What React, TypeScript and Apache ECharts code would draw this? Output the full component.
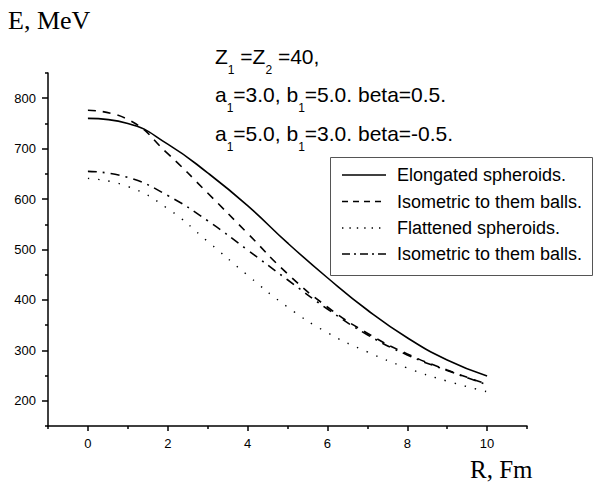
import React, { useEffect, useRef } from "react";
import * as echarts from "echarts";

const R = [0, 1, 2, 3, 4, 5, 6, 7, 8, 9, 10];
const elongated = [760, 750, 709, 652, 587, 513, 444, 380, 325, 281, 249];
const isoElongated = [776, 758, 690, 612, 532, 452, 386, 334, 293, 261, 233];
const flattened = [641, 625, 581, 516, 449, 386, 335, 297, 265, 239, 218];
const isoFlattened = [655, 643, 607, 557, 499, 440, 382, 331, 291, 260, 232];

const seriesNames = [
  "Elongated spheroids.",
  "Isometric to them balls.",
  "Flattened spheroids.",
  "Isometric to them balls.",
];

const xMajor = [0, 2, 4, 6, 8, 10];
const xMinor = [-1, 1, 3, 5, 7, 9, 11];
const yMajor = [200, 300, 400, 500, 600, 700, 800];
const yMinor = [150, 250, 350, 450, 550, 650, 750, 850];

const FONT = "Liberation Sans, Arial, sans-serif";
const SERIF = "Liberation Serif, Times New Roman, serif";

const plotDash: any[] = ["solid", [8, 7], [1.4, 9], [9, 6, 2, 6]];
const legendDash: any[] = [null, [6, 5], [1.4, 6], [8, 4, 2, 4]];
const lineWidths = [1.6, 1.6, 1.4, 1.6];

function pairs(vals: number[]) {
  return R.map((r, i) => [r, vals[i]]);
}

export default function App() {
  const ref = useRef<HTMLDivElement>(null);
  useEffect(() => {
    if (!ref.current) return;
    const chart = echarts.init(ref.current, null, { renderer: "svg" });
    const main = { fontSize: 21, lineHeight: 21, fontFamily: FONT, color: "#000", verticalAlign: "top" };
    const sub = { fontSize: 12, lineHeight: 12, fontFamily: FONT, color: "#000", padding: [18, 0, 0, 0], verticalAlign: "top" };
    const rich = { m: main, s: sub };
    const axisCommon = {
      type: "value",
      axisLine: { show: true, onZero: false, lineStyle: { color: "#000", width: 1.5 } },
      splitLine: { show: false },
    };
    const allSeries = [elongated, isoElongated, flattened, isoFlattened];

    const legendBox = { x: 330.5, y: 157.5, w: 262, h: 118 };
    const rowY = [175, 201.5, 228, 254];
    const legendGraphics: any[] = [
      {
        type: "rect",
        shape: { x: legendBox.x, y: legendBox.y, width: legendBox.w, height: legendBox.h },
        style: { fill: "#fff", stroke: "#555", lineWidth: 1 },
        z: 10,
      },
    ];
    seriesNames.forEach((name, i) => {
      legendGraphics.push({
        type: "line",
        shape: { x1: 342, y1: rowY[i], x2: 386, y2: rowY[i] },
        style: { stroke: "#000", lineWidth: lineWidths[i], lineDash: legendDash[i] || undefined },
        z: 11,
      });
      legendGraphics.push({
        type: "text",
        x: 397,
        y: rowY[i],
        style: { text: name, fontSize: 18, fontFamily: FONT, fill: "#000", verticalAlign: "middle", align: "left" },
        z: 11,
      });
    });

    chart.setOption({
      animation: false,
      backgroundColor: "#fff",
      grid: { left: 48, right: 67, top: 73, bottom: 57, containLabel: false },
      xAxis: [
        {
          ...axisCommon,
          position: "bottom",
          min: -1,
          max: 11,
          axisTick: { show: true, length: 5, customValues: xMajor, lineStyle: { color: "#000", width: 1.5 } },
          axisLabel: { customValues: xMajor, color: "#000", fontSize: 13, fontFamily: FONT, margin: 11 },
        },
        {
          ...axisCommon,
          position: "bottom",
          min: -1,
          max: 11,
          axisLine: { show: false, onZero: false },
          axisTick: { show: true, length: 3, customValues: xMinor, lineStyle: { color: "#000", width: 1.5 } },
          axisLabel: { show: false },
        },
      ],
      yAxis: [
        {
          ...axisCommon,
          position: "left",
          min: 150,
          max: 850,
          axisTick: { show: true, length: 6, customValues: yMajor, lineStyle: { color: "#000", width: 1.5 } },
          axisLabel: { customValues: yMajor, color: "#000", fontSize: 13, fontFamily: FONT, margin: 12 },
        },
        {
          ...axisCommon,
          position: "left",
          min: 150,
          max: 850,
          axisLine: { show: false, onZero: false },
          axisTick: { show: true, length: 3, customValues: yMinor, lineStyle: { color: "#000", width: 1.5 } },
          axisLabel: { show: false },
        },
      ],
      series: allSeries.map((vals, i) => ({
        name: seriesNames[i],
        type: "line",
        data: pairs(vals),
        smooth: 0.5,
        symbol: "none",
        lineStyle: { color: "#000", width: lineWidths[i], type: plotDash[i] },
        itemStyle: { color: "#000" },
      })),
      graphic: [
        { type: "text", left: 8, top: 7, style: { text: "E, MeV", fontSize: 26, fontFamily: SERIF, fill: "#000" } },
        {
          type: "text",
          left: 470,
          top: 457,
          style: { text: "R, Fm", fontSize: 25, lineHeight: 22, fontFamily: SERIF, fill: "#000" },
        },
        {
          type: "text",
          left: 215,
          top: 45.5,
          style: { text: "{m|Z}{s|1}{m| =Z}{s|2}{m| =40,}", rich },
        },
        {
          type: "text",
          left: 215,
          top: 84,
          style: { text: "{m|a}{s|1}{m|=3.0, b}{s|1}{m|=5.0. beta=0.5.}", rich },
        },
        {
          type: "text",
          left: 215,
          top: 122.5,
          style: { text: "{m|a}{s|1}{m|=5.0, b}{s|1}{m|=3.0. beta=-0.5.}", rich },
        },
        ...legendGraphics,
      ],
    });
    return () => chart.dispose();
  }, []);
  return (
    <div
      ref={ref}
      style={{ position: "absolute", left: 0, top: 0, width: 594, height: 483, background: "#fff" }}
    />
  );
}
